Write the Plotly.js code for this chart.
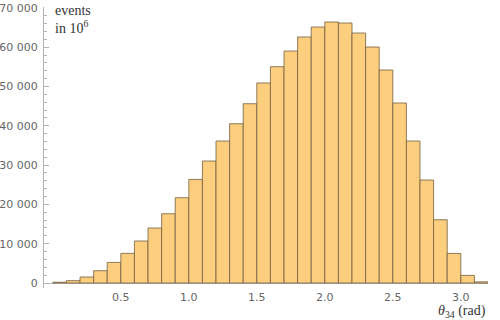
<!DOCTYPE html>
<html>
<head>
<meta charset="utf-8">
<script src="https://cdn.plot.ly/plotly-3.0.1.min.js"></script>
<style>html,body{margin:0;padding:0;background:#fff;}#chart{width:500px;height:320px;}</style>
</head>
<body>
<div id="chart"></div>
<script>
// Histogram bins (left edges, rad) and counts
var binStarts = [0.0,0.1,0.2,0.3,0.4,0.5,0.6,0.7,0.8,0.9,1.0,1.1,1.2,1.3,1.4,1.5,1.6,1.7,1.8,1.9,2.0,2.1,2.2,2.3,2.4,2.5,2.6,2.7,2.8,2.9,3.0,3.1];
var counts = [200,600,1530,3130,5240,7540,10690,13990,17630,21700,26360,31040,36130,40530,45620,50890,55040,59030,62600,65140,66410,66150,63610,60050,54200,45800,36130,26200,16100,7530,1940,300];
var binWidth = 0.1;
var yTickVals = [0,10000,20000,30000,40000,50000,60000,70000];
var yTickText = ["0","10 000","20 000","30 000","40 000","50 000","60 000","70 000"];
var xTickVals = [0.5,1.0,1.5,2.0,2.5,3.0];
var xTickText = ["0.5","1.0","1.5","2.0","2.5","3.0"];

var centers = binStarts.map(function(s){ return s + binWidth/2; });

var trace = {
  type: 'bar',
  x: centers,
  y: counts,
  width: binWidth,
  marker: {color: 'rgb(252,206,126)', line: {color: 'rgba(115,95,65,0.8)', width: 1}},
  hoverinfo: 'skip'
};

var axisGray = '#b4b4b4';
var tickFont = {family: 'DejaVu Sans, sans-serif', size: 11, color: '#666'};

var layout = {
  width: 500, height: 320,
  margin: {l: 44, r: 12, t: 7, b: 32},
  paper_bgcolor: '#fff', plot_bgcolor: '#fff',
  showlegend: false,
  bargap: 0,
  xaxis: {
    range: [-0.065, 3.2],
    showgrid: false, zeroline: false, showline: false,
    tickvals: xTickVals, ticktext: xTickText,
    ticks: '', tickfont: tickFont, ticklabelstandoff: 1
  },
  yaxis: {
    range: [-1270, 70230],
    showgrid: false,
    zeroline: true, zerolinecolor: axisGray, zerolinewidth: 1,
    showline: true, linecolor: axisGray, linewidth: 1,
    tickvals: yTickVals, ticktext: yTickText,
    ticks: 'inside', ticklen: 5, tickcolor: axisGray, tickwidth: 1,
    minor: {dtick: 2000, tick0: 0, ticks: 'inside', ticklen: 3, tickcolor: axisGray, tickwidth: 1, showgrid: false},
    tickfont: tickFont, ticklabelstandoff: 3
  },
  annotations: [
    {xref: 'paper', yref: 'paper', x: 0.02, y: 1.02, xanchor: 'left', yanchor: 'top', align: 'left',
     showarrow: false, text: 'events<br>in 10<sup>6</sup>',
     font: {family: 'Liberation Serif, Times New Roman, serif', size: 14, color: '#333'}},
    {xref: 'paper', yref: 'paper', x: 1.0, y: -0.082, xanchor: 'right', yanchor: 'middle', align: 'right',
     showarrow: false, text: '<i>θ</i><sub>34</sub> (rad)',
     font: {family: 'Liberation Serif, Times New Roman, serif', size: 14, color: '#333'}}
  ]
};

Plotly.newPlot('chart', [trace], layout, {staticPlot: true, displayModeBar: false});
</script>
</body>
</html>
